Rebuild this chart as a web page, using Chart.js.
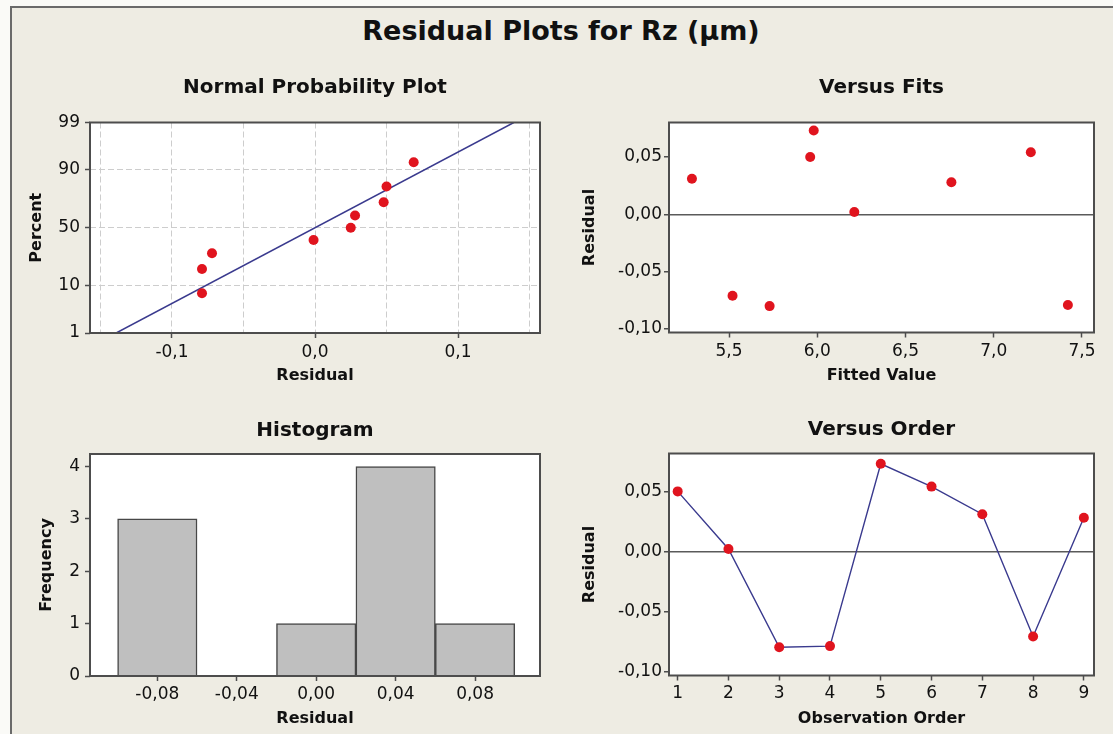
<!DOCTYPE html>
<html lang="en">
<head>
<meta charset="UTF-8">
<title>Residual Plots for Rz (µm)</title>
<script src="https://cdn.jsdelivr.net/npm/chart.js"></script>
<style>
  html, body {
    margin: 0;
    padding: 0;
    width: 1113px;
    height: 734px;
    overflow: hidden;
    background: #fafaf7;
  }
  .frame {
    position: absolute;
    left: 10px;
    top: 6px;
    width: 1120px;
    height: 740px;
    background: #eeece3;
    border-left: 2px solid #6a6a6a;
    border-top: 2px solid #6a6a6a;
  }
  h1 {
    position: absolute;
    left: 0;
    top: 13px;
    width: 1122px;
    margin: 0;
    font: bold 27px/36px "DejaVu Sans", sans-serif;
    text-align: center;
    color: #111;
  }
  canvas { position: absolute; }
  #npp   { left: 0;     top: 60px; }
  #fits  { left: 560px; top: 60px; }
  #hist  { left: 0;     top: 400px; }
  #order { left: 560px; top: 400px; }
</style>
</head>
<body>
<div class="frame"></div>
<h1>Residual Plots for Rz (µm)</h1>
<canvas id="npp" width="560" height="340"></canvas>
<canvas id="fits" width="553" height="340"></canvas>
<canvas id="hist" width="560" height="334"></canvas>
<canvas id="order" width="553" height="334"></canvas>

<script>
// Normal probability plot
const nppResidual = [-0.079, -0.079, -0.072, -0.001, 0.025, 0.028, 0.048, 0.050, 0.069];
const nppPercent = [7.4, 18.1, 28.7, 39.4, 50.0, 60.6, 71.3, 81.9, 92.6];
const nppFitResidual = [-0.139, 0.139];
const nppFitPercent = [1, 99];
const nppPercentTicks = [1, 10, 50, 90, 99];
const nppResidualTicks = [-0.15, -0.1, -0.05, 0, 0.05, 0.1, 0.15];

// Versus fits / versus order, listed by observation order
const observationOrder = [1, 2, 3, 4, 5, 6, 7, 8, 9];
const fittedValue = [5.96, 6.21, 5.73, 7.42, 5.98, 7.21, 5.29, 5.52, 6.76];
const residual = [0.050, 0.002, -0.080, -0.079, 0.073, 0.054, 0.031, -0.071, 0.028];
const residualTicks = [-0.10, -0.05, 0, 0.05];
const fittedTicks = [5.5, 6.0, 6.5, 7.0, 7.5];

// Histogram of residuals
const binCenters = [-0.08, -0.04, 0.00, 0.04, 0.08];
const binCounts = [3, 0, 1, 4, 1];
const frequencyTicks = [0, 1, 2, 3, 4];

const FONT = 'DejaVu Sans';
const INK = '#111';
const AXIS = '#4d4d4d';
const RED = '#e0141e';
const BLUE = '#3a3a8e';

// comma decimals, as in the original
const comma = (v, d) => (Math.abs(v) < 1e-9 ? 0 : v).toFixed(d).replace('.', ',');
const isTenth = v => Math.abs(v * 10 - Math.round(v * 10)) < 1e-6;

// inverse normal CDF (Acklam), used for the probability scale
function probit(p) {
  const a = [-39.69683028665376, 220.9460984245205, -275.9285104469687, 138.3577518672690, -30.66479806614716, 2.506628277459239];
  const b = [-54.47609879822406, 161.5858368580409, -155.6989798598866, 66.80131188771972, -13.28068155288572];
  const c = [-0.007784894002430293, -0.3223964580411365, -2.400758277161838, -2.549732539343734, 4.374664141464968, 2.938163982698783];
  const d = [0.007784695709041462, 0.3224671290700398, 2.445134137142996, 3.754408661907416];
  const lo = 0.02425;
  let q, r;
  if (p < lo || p > 1 - lo) {
    q = Math.sqrt(-2 * Math.log(p < lo ? p : 1 - p));
    const z = (((((c[0] * q + c[1]) * q + c[2]) * q + c[3]) * q + c[4]) * q + c[5]) /
              ((((d[0] * q + d[1]) * q + d[2]) * q + d[3]) * q + 1);
    return p < lo ? z : -z;
  }
  q = p - 0.5;
  r = q * q;
  return (((((a[0] * r + a[1]) * r + a[2]) * r + a[3]) * r + a[4]) * r + a[5]) * q /
         (((((b[0] * r + b[1]) * r + b[2]) * r + b[3]) * r + b[4]) * r + 1);
}

// white plot area with a dark box round it
const plotFrame = {
  id: 'plotFrame',
  beforeDraw(chart) {
    const { ctx, chartArea: a } = chart;
    ctx.save();
    ctx.fillStyle = '#ffffff';
    ctx.fillRect(a.left, a.top, a.width, a.height);
    ctx.restore();
  },
  afterDraw(chart) {
    const { ctx, chartArea: a } = chart;
    ctx.save();
    ctx.strokeStyle = AXIS;
    ctx.lineWidth = 2;
    ctx.strokeRect(a.left, a.top, a.width, a.height);
    ctx.restore();
  }
};

function linearAxis(a, pos) {
  return {
    type: 'linear',
    position: pos,
    min: a.min,
    max: a.max,
    offset: false,
    afterBuildTicks: s => { s.ticks = a.ticks.map(v => ({ value: v })); },
    afterFit: s => { if (pos === 'left') s.width = a.size; else s.height = a.size; },
    ticks: {
      font: { family: FONT, size: 17 },
      color: INK,
      padding: a.tickPad,
      maxRotation: 0,
      autoSkip: false,
      callback: a.label
    },
    grid: {
      offset: false,
      color: a.gridColor || 'transparent',
      lineWidth: a.gridWidth || 1,
      tickLength: 5,
      tickWidth: 1.5,
      tickColor: a.tickColor || AXIS
    },
    border: { display: false, dash: a.dash || [] },
    title: {
      display: true,
      text: a.title,
      color: INK,
      font: { family: FONT, size: 16, weight: 'bold' },
      padding: a.titlePad
    }
  };
}

function panelOptions(p) {
  return {
    responsive: false,
    animation: false,
    events: [],
    layout: { padding: { left: 0, right: p.padRight, top: 0, bottom: 0 } },
    plugins: {
      legend: { display: false },
      tooltip: { enabled: false },
      title: {
        display: true,
        text: p.title,
        fullSize: false,
        color: INK,
        font: { family: FONT, size: 20, weight: 'bold' },
        padding: p.titlePad
      }
    },
    scales: { x: linearAxis(p.x, 'bottom'), y: linearAxis(p.y, 'left') }
  };
}

const zeroLine = ctx => (ctx.tick && ctx.tick.value === 0 ? '#5a5a5a' : 'transparent');

// Normal Probability Plot
new Chart(document.getElementById('npp'), {
  type: 'scatter',
  data: {
    datasets: [
      {
        data: nppResidual.map((r, i) => ({ x: r, y: probit(nppPercent[i] / 100) })),
        backgroundColor: RED,
        borderWidth: 0,
        pointRadius: 5,
        order: 0
      },
      {
        type: 'line',
        data: nppFitResidual.map((r, i) => ({ x: r, y: probit(nppFitPercent[i] / 100) })),
        showLine: true,
        borderColor: BLUE,
        borderWidth: 1.5,
        pointRadius: 0,
        order: 1
      }
    ]
  },
  options: panelOptions({
    title: 'Normal Probability Plot',
    titlePad: { top: 16, bottom: 22.5 },
    padRight: 20,
    x: {
      min: -0.1573, max: 0.1573, ticks: nppResidualTicks, size: 67, tickPad: 4,
      label: v => (isTenth(v) ? comma(v, 1) : ''),
      tickColor: ctx => (ctx.tick && isTenth(ctx.tick.value) ? AXIS : 'transparent'),
      gridColor: '#cdcdcd', dash: [6, 3],
      title: 'Residual', titlePad: { top: 0, bottom: 14.4 }
    },
    y: {
      min: probit(0.01), max: probit(0.99),
      ticks: nppPercentTicks.map(p => probit(p / 100)), size: 90, tickPad: 5,
      label: (v, i) => String(nppPercentTicks[i]),
      gridColor: '#cdcdcd', dash: [6, 3],
      title: 'Percent', titlePad: { top: 26.9, bottom: 0 }
    }
  }),
  plugins: [plotFrame]
});

// Versus Fits
new Chart(document.getElementById('fits'), {
  type: 'scatter',
  data: {
    datasets: [{
      data: fittedValue.map((f, i) => ({ x: f, y: residual[i] })),
      backgroundColor: RED,
      borderWidth: 0,
      pointRadius: 5
    }]
  },
  options: panelOptions({
    title: 'Versus Fits',
    titlePad: { top: 16, bottom: 22.5 },
    padRight: 19,
    x: {
      min: 5.16, max: 7.568, ticks: fittedTicks, size: 67.5, tickPad: 4,
      label: v => comma(v, 1),
      title: 'Fitted Value', titlePad: { top: 0, bottom: 14.9 }
    },
    y: {
      min: -0.103, max: 0.080, ticks: residualTicks, size: 109, tickPad: 2,
      label: v => comma(v, 2),
      gridColor: zeroLine, gridWidth: 1.5,
      title: 'Residual', titlePad: { top: 20.4, bottom: 0 }
    }
  }),
  plugins: [plotFrame]
});

// Histogram
new Chart(document.getElementById('hist'), {
  type: 'bar',
  data: {
    datasets: [{
      data: binCenters.map((c, i) => ({ x: c, y: binCounts[i] })),
      backgroundColor: '#bfbfbf',
      borderColor: '#474747',
      borderWidth: 1.5,
      barPercentage: 1,
      categoryPercentage: 1
    }]
  },
  options: panelOptions({
    title: 'Histogram',
    titlePad: { top: 18.5, bottom: 11.5 },
    padRight: 20,
    x: {
      min: -0.1139, max: 0.1127, ticks: binCenters, size: 58, tickPad: 3,
      label: v => comma(v, 2),
      title: 'Residual', titlePad: { top: 0, bottom: 5.9 }
    },
    y: {
      min: 0, max: 4.24, ticks: frequencyTicks, size: 90, tickPad: 5,
      label: v => String(v),
      title: 'Frequency', titlePad: { top: 36.9, bottom: 0 }
    }
  }),
  plugins: [plotFrame]
});

// Versus Order
new Chart(document.getElementById('order'), {
  type: 'scatter',
  data: {
    datasets: [{
      data: observationOrder.map((o, i) => ({ x: o, y: residual[i] })),
      showLine: true,
      borderColor: BLUE,
      borderWidth: 1.4,
      backgroundColor: RED,
      pointBackgroundColor: RED,
      pointBorderWidth: 0,
      pointRadius: 5
    }]
  },
  options: panelOptions({
    title: 'Versus Order',
    titlePad: { top: 18, bottom: 11.5 },
    padRight: 19,
    x: {
      min: 0.829, max: 9.2, ticks: observationOrder, size: 58.5, tickPad: 2.7,
      label: v => String(v),
      title: 'Observation Order', titlePad: { top: 0, bottom: 5.4 }
    },
    y: {
      min: -0.1035, max: 0.0816, ticks: residualTicks, size: 109, tickPad: 2,
      label: v => comma(v, 2),
      gridColor: zeroLine, gridWidth: 1.5,
      title: 'Residual', titlePad: { top: 20.4, bottom: 0 }
    }
  }),
  plugins: [plotFrame]
});
</script>
</body>
</html>
